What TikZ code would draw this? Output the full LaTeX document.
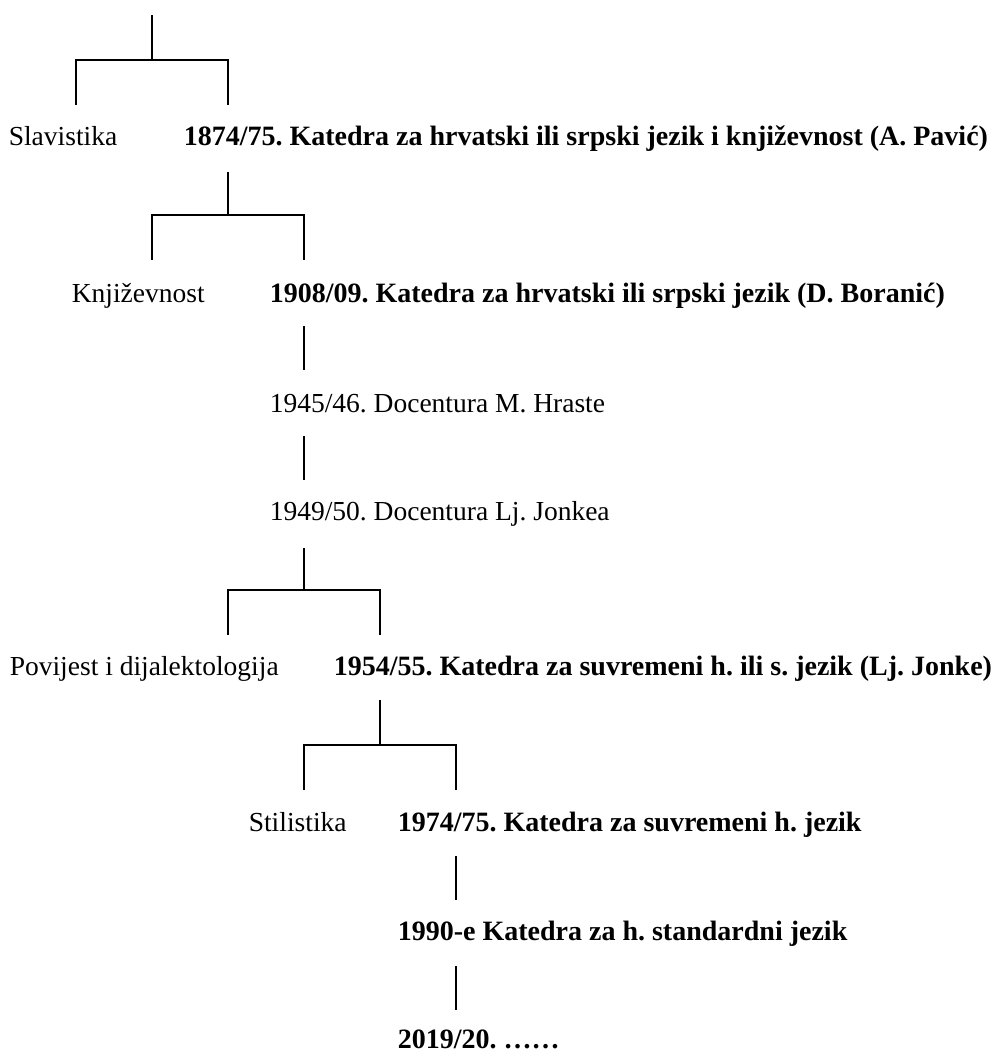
\documentclass[tikz,border=0pt]{standalone}
\usepackage{fontspec}
\setmainfont{Liberation Serif}
\usepackage{tikz}
\frenchspacing
\tikzset{lbl/.style={anchor=base west,inner sep=0pt,font=\fontsize{27.5}{33}\selectfont},
         chair/.style={lbl,font=\fontsize{28}{33}\selectfont\bfseries}}

\begin{document}
\begin{tikzpicture}[x=1pt, y=-1pt, line width=1.6pt]
    
    \useasboundingbox (0,0) rectangle (992,1053);
    
    \foreach \x/\ytop/\ybar/\ybot [count=\i] in {152/15/60/105, 228/172/215/260, 304/548/590/635, 380/700/745/790} {
        \coordinate (top\i) at (\x,\ytop);
        \coordinate (bar\i) at (\x,\ybar);
        \coordinate (left\i) at (\x-76,\ybot);
        \coordinate (right\i) at (\x+76,\ybot);
        \draw (top\i) -- (bar\i);
        \draw (left\i) |- (bar\i) -| (right\i);
    }
    
    \foreach \x/\ya/\yb [count=\i] in {304/326/370, 304/436/480, 456/856/900, 456/966/1010} {
        \coordinate (up\i) at (\x,\ya);
        \coordinate (down\i) at (\x,\yb);
        \draw (up\i) -- (down\i);
    }
    
    \node [lbl] (slav) at (8,145) {Slavistika};
    \node [chair] (k1874) at (183,145) {1874/75. Katedra za hrvatski ili srpski jezik i književnost (A. Pavić)};
    \node [lbl] (knjiz) at (71,302) {Književnost};
    \node [chair] (k1908) at (269,302) {1908/09. Katedra za hrvatski ili srpski jezik (D. Boranić)};
    \node [lbl] (d1945) at (269,412) {1945/46. Docentura M. Hraste};
    \node [lbl] (d1949) at (269,520) {1949/50. Docentura Lj. Jonkea};
    \node [lbl] (povij) at (9,675) {Povijest i dijalektologija};
    \node [chair] (k1954) at (333,675) {1954/55. Katedra za suvremeni h. ili s. jezik (Lj. Jonke)};
    \node [lbl] (stil) at (248,831) {Stilistika};
    \node [chair] (k1974) at (397,831) {1974/75. Katedra za suvremeni h. jezik};
    \node [chair] (k1990) at (397,940) {1990-e Katedra za h. standardni jezik};
    \node [chair] (k2019) at (397,1048) {2019/20. ……};
    
\end{tikzpicture}
\end{document}
